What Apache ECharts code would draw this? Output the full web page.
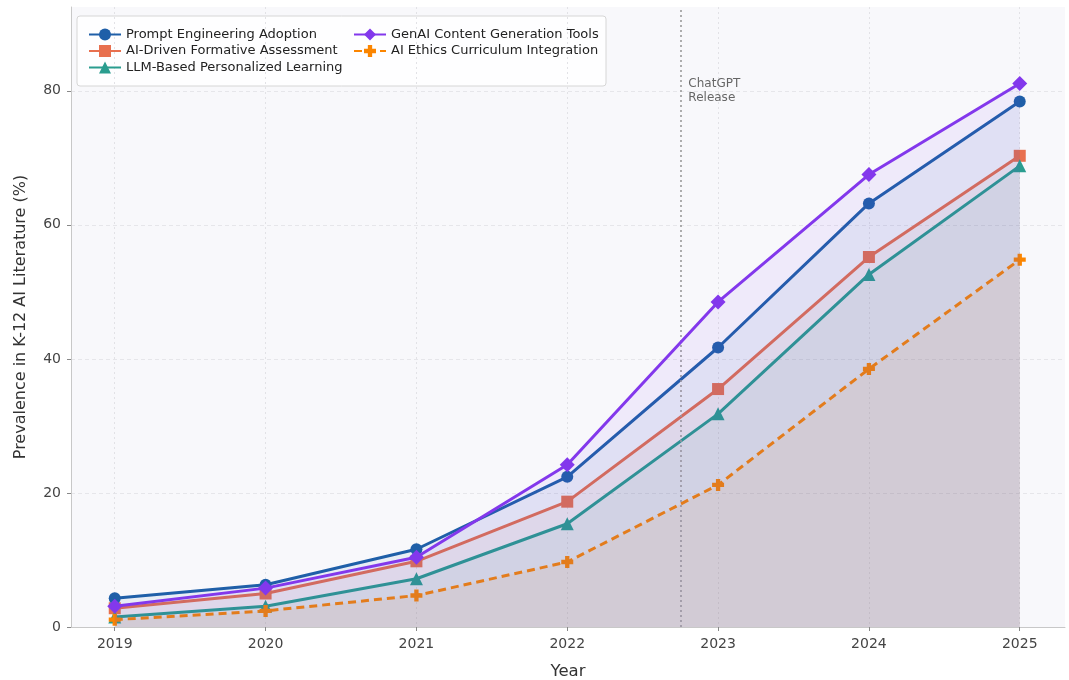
<!DOCTYPE html>
<html>
<head>
<meta charset="utf-8">
<script src="https://cdn.jsdelivr.net/npm/echarts@6/dist/echarts.min.js"></script>
<style>
  html, body { margin: 0; padding: 0; background: #ffffff; }
  #chart { width: 1069px; height: 680px; }
</style>
</head>
<body>
<div id="chart"></div>
<script>
// Years covered by the review
const years = [2019, 2020, 2021, 2022, 2023, 2024, 2025];

// Prevalence (%) of each theme in K-12 AI literature
const promptEngineering = [4.3, 6.3, 11.6, 22.4, 41.7, 63.2, 78.4];
const formativeAssessment = [2.8, 5.0, 9.8, 18.7, 35.5, 55.2, 70.3];
const personalizedLearning = [1.5, 3.1, 7.2, 15.4, 31.8, 52.6, 68.8];
const genaiContentTools = [3.1, 5.8, 10.4, 24.2, 48.5, 67.5, 81.1];
const ethicsCurriculum = [1.1, 2.4, 4.7, 9.7, 21.2, 38.5, 54.8];

// Annotation for the ChatGPT release (late 2022)
const releaseYear = 2022.75;
const releaseLabel = 'ChatGPT\nRelease';

const yTicks = [0, 20, 40, 60, 80];

const plusPath = 'path://M3.2,0H6.8V3.2H10V6.8H6.8V10H3.2V6.8H0V3.2H3.2Z';

function pairs(values) {
  return years.map((y, i) => [y, values[i]]);
}

function makeSeries(name, values, color, symbol, opts) {
  opts = opts || {};
  return {
    name: name,
    type: 'line',
    data: pairs(values),
    symbol: symbol,
    symbolSize: opts.symbolSize || 12,
    showAllSymbol: true,
    lineStyle: { color: color, width: 3, type: opts.dashed ? [8, 5] : 'solid' },
    itemStyle: { color: color },
    areaStyle: { color: color, opacity: 0.07, origin: 0 },
    z: opts.z || 3,
    emphasis: { disabled: true },
    markLine: opts.markLine,
    markPoint: opts.markPoint
  };
}

const chart = echarts.init(document.getElementById('chart'), null, { renderer: 'canvas' });

const font = 'DejaVu Sans';

const legendBase = {
  orient: 'vertical',
  top: 23,
  itemWidth: 32, itemHeight: 15, itemGap: 3.5,
  textStyle: { fontFamily: font, fontSize: 13, color: '#222' },
  selectedMode: false
};

const option = {
  animation: false,
  backgroundColor: '#ffffff',
  textStyle: { fontFamily: font },
  grid: {
    left: 71, right: 4, top: 7, bottom: 53,
    outerBoundsMode: 'none',
    containLabel: false,
    show: true, backgroundColor: '#f8f8fb', borderWidth: 0
  },
  legend: [
    Object.assign({}, legendBase, {
      data: ['Prompt Engineering Adoption', 'AI-Driven Formative Assessment', 'LLM-Based Personalized Learning'],
      left: 83
    }),
    Object.assign({}, legendBase, {
      data: ['GenAI Content Generation Tools', 'AI Ethics Curriculum Integration'],
      left: 348
    })
  ],
  graphic: [
    {
      type: 'rect',
      shape: { x: 77, y: 16, width: 529, height: 70, r: 3 },
      style: { fill: 'rgba(255,255,255,0.85)', stroke: '#d6d6d6', lineWidth: 1 },
      z: 0, zlevel: 0
    }
  ],
  xAxis: {
    type: 'value',
    min: 2018.71,
    max: 2025.3,
    name: 'Year',
    nameLocation: 'middle',
    nameGap: 36,
    nameTextStyle: { fontFamily: font, fontSize: 16.5, color: '#333' },
    axisLine: { show: true, lineStyle: { color: '#c8c8c8', width: 1 } },
    axisTick: { show: true, customValues: years, length: 4, lineStyle: { color: '#888' } },
    axisLabel: { customValues: years, formatter: v => String(v), fontFamily: font, fontSize: 14, color: '#444', margin: 10 },
    splitLine: { show: true, lineStyle: { color: '#e2e2e6', type: [2, 3], width: 1 } }
  },
  yAxis: {
    type: 'value',
    min: 0,
    max: 92.5,
    interval: 20,
    name: 'Prevalence in K-12 AI Literature (%)',
    nameLocation: 'middle',
    nameGap: 42,
    nameTextStyle: { fontFamily: font, fontSize: 16, color: '#333' },
    axisLine: { show: true, lineStyle: { color: '#c8c8c8', width: 1 } },
    axisTick: { show: true, customValues: yTicks, length: 4, lineStyle: { color: '#888' } },
    axisLabel: { customValues: yTicks, fontFamily: font, fontSize: 14, color: '#444', margin: 10 },
    splitLine: { show: true, lineStyle: { color: '#e6e6ea', type: [4, 3], width: 1 } }
  },
  series: [
    makeSeries('Prompt Engineering Adoption', promptEngineering, '#1f5fa8', 'circle', {
      z: 4,
      markLine: {
        silent: true,
        symbol: 'none',
        label: { show: false },
        lineStyle: { color: '#9a9a9a', type: [2, 3], width: 1.6 },
        data: [{ xAxis: releaseYear }]
      },
      markPoint: {
        silent: true,
        symbol: 'circle',
        symbolSize: 0,
        data: [{ coord: [releaseYear, 80] }],
        label: {
          show: true,
          formatter: releaseLabel,
          position: 'right',
          distance: 8,
          fontFamily: font,
          fontSize: 12,
          lineHeight: 14,
          color: '#666',
          align: 'left'
        }
      }
    }),
    makeSeries('AI-Driven Formative Assessment', formativeAssessment, '#e8704f', 'rect', { z: 3, symbolSize: 12 }),
    makeSeries('LLM-Based Personalized Learning', personalizedLearning, '#2a9d8f', 'triangle', { z: 3, symbolSize: 13 }),
    makeSeries('GenAI Content Generation Tools', genaiContentTools, '#8338ec', 'diamond', { z: 5, symbolSize: 15 }),
    makeSeries('AI Ethics Curriculum Integration', ethicsCurriculum, '#fb8500', plusPath, { z: 3, dashed: true, symbolSize: 12 })
  ]
};

chart.setOption(option);
</script>
</body>
</html>
